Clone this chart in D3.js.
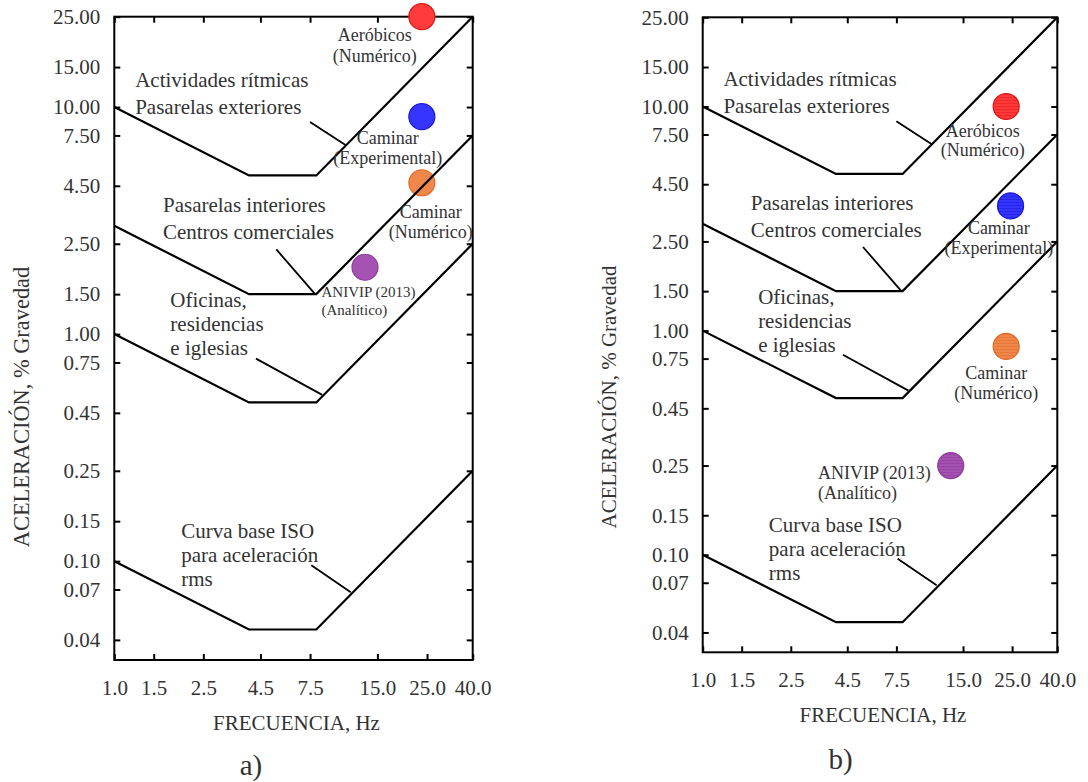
<!DOCTYPE html>
<html>
<head>
<meta charset="utf-8">
<script src="https://cdn.jsdelivr.net/npm/d3@7"></script>
<style>
  html, body { margin: 0; padding: 0; background: #fff; }
  svg { display: block; }
  text { font-family: "Liberation Serif", "Times New Roman", Times, serif; fill: #333; }
</style>
</head>
<body>
<svg id="chart" width="1088" height="782"></svg>
<script>
// ---------- data ----------
const xTicks = [1.0, 1.5, 2.5, 4.5, 7.5, 15, 25, 40];
const xTickLabels = ["1.0", "1.5", "2.5", "4.5", "7.5", "15.0", "25.0", "40.0"];
const yTicks = [25, 15, 10, 7.5, 4.5, 2.5, 1.5, 1.0, 0.75, 0.45, 0.25, 0.15, 0.10, 0.075, 0.045];
const yTickLabels = ["25.00", "15.00", "10.00", "7.50", "4.50", "2.50", "1.50", "1.00", "0.75", "0.45", "0.25", "0.15", "0.10", "0.07", "0.04"];

const curveFreq = [1, 4, 8, 40];
const curveOutdoor = [10, 5, 5, 25];
const curveIndoor = [3.0, 1.5, 1.5, 7.5];
const curveOffices = [1.0, 0.5, 0.5, 2.5];
const curveBase = [0.1, 0.05, 0.05, 0.25];

const curveLabels = [
  ["Actividades rítmicas", "Pasarelas exteriores"],
  ["Pasarelas interiores", "Centros comerciales"],
  ["Oficinas,", "residencias", "e iglesias"],
  ["Curva base ISO", "para aceleración", "rms"]
];
// label anchor (freq, accel) of first line, left/baseline
const curveLabelFreq = [1.24, 1.65, 1.78, 1.99];
const curveLabelAcc = [12.3, 3.44, 1.31, 0.126];
// leader lines: start (freq, acc) -> end (freq, acc)
const leaderFreq0 = [7.5, 5.3, 4.3, 7.6];
const leaderAcc0 = [8.6, 2.36, 0.78, 0.096];
const leaderFreq1 = [10.8, 7.9, 8.5, 11.4];
const leaderAcc1 = [6.8, 1.5, 0.54, 0.073];

const pointNames = [
  ["Aeróbicos", "(Numérico)"],
  ["Caminar", "(Experimental)"],
  ["Caminar", "(Numérico)"],
  ["ANIVIP (2013)", "(Analítico)"]
];
const pointFreqA = [23.7, 23.7, 23.7, 13.2];
const pointAccA = [25, 9.07, 4.64, 1.97];
const pointFreqB = [23.5, 24.6, 23.5, 13.2];
const pointAccB = [10, 3.6, 0.85, 0.25];

// ---------- styles ----------
const pointFill = ["#ff3b3b", "#3535ff", "#f0874a", "#a553b3"];
const pointStroke = ["#e01515", "#1717dd", "#e06a28", "#8d3b9c"];
const pointStripe = ["#e81818", "#1a1ad8", "#e36c2c", "#8e3a9c"];

const svg = d3.select("#chart");
svg.append("rect").attr("width", 1088).attr("height", 782).attr("fill", "#fff");

const defs = svg.append("defs");
pointFill.forEach((c, i) => {
  const p = defs.append("pattern").attr("id", "hatch" + i)
    .attr("patternUnits", "userSpaceOnUse").attr("width", 6).attr("height", 3);
  p.append("rect").attr("width", 6).attr("height", 3).attr("fill", c);
  p.append("rect").attr("y", 1.2).attr("width", 6).attr("height", 0.9).attr("fill", pointStripe[i]).attr("opacity", 0.75);
});

function drawPanel(cfg) {
  const x = d3.scaleLog().domain([1, 40]).range([cfg.left, cfg.right]);
  const y = d3.scaleLog().domain([0.0367, 25]).range([cfg.bottom, cfg.top]);
  const g = svg.append("g");

  // axes with inward ticks
  const bottom = g.append("g").attr("transform", `translate(0,${cfg.bottom})`)
    .call(d3.axisBottom(x).tickValues(xTicks).tickFormat((d, i) => xTickLabels[i]).tickSize(-6).tickPadding(20));
  const left = g.append("g").attr("transform", `translate(${cfg.left},0)`)
    .call(d3.axisLeft(y).tickValues(yTicks).tickFormat((d, i) => yTickLabels[i]).tickSize(-6).tickPadding(14));
  const top = g.append("g").attr("transform", `translate(0,${cfg.top})`)
    .call(d3.axisTop(x).tickValues(xTicks).tickFormat("").tickSize(-6));
  const right = g.append("g").attr("transform", `translate(${cfg.right},0)`)
    .call(d3.axisRight(y).tickValues(yTicks).tickFormat("").tickSize(-6));
  [bottom, left, top, right].forEach(a => {
    a.select(".domain").remove();
    a.selectAll(".tick line").attr("stroke", "#000").attr("stroke-width", 2);
    a.selectAll(".tick text").attr("font-size", 21).attr("font-family", "Liberation Serif").attr("fill", "#333");
  });

  // frame
  g.append("rect").attr("x", cfg.left).attr("y", cfg.top)
    .attr("width", cfg.right - cfg.left).attr("height", cfg.bottom - cfg.top)
    .attr("fill", "none").attr("stroke", "#000").attr("stroke-width", 2);

  // points (drawn below curves)
  const line = d3.line().x(d => x(d[0])).y(d => y(d[1]));
  cfg.freq.forEach((f, i) => {
    g.append("circle").attr("cx", x(f)).attr("cy", y(cfg.acc[i])).attr("r", 13)
      .attr("fill", cfg.hatch ? `url(#hatch${i})` : pointFill[i])
      .attr("stroke", pointStroke[i]).attr("stroke-width", 1.2);
  });

  // curves
  [curveOutdoor, curveIndoor, curveOffices, curveBase].forEach(c => {
    g.append("path").datum(curveFreq.map((f, i) => [f, c[i]]))
      .attr("d", line).attr("fill", "none").attr("stroke", "#000").attr("stroke-width", 2.2)
      .attr("stroke-linejoin", "miter");
  });

  // leader lines
  leaderFreq0.forEach((f, i) => {
    g.append("line")
      .attr("x1", x(f)).attr("y1", y(leaderAcc0[i]))
      .attr("x2", x(leaderFreq1[i])).attr("y2", y(leaderAcc1[i]))
      .attr("stroke", "#000").attr("stroke-width", 1.8);
  });

  // curve labels
  curveLabels.forEach((lines, i) => {
    const t = g.append("text").attr("x", x(curveLabelFreq[i])).attr("y", y(curveLabelAcc[i]))
      .attr("font-size", 21);
    const sp = i < 2 ? 27 : 24;
    lines.forEach((s, k) => t.append("tspan").attr("x", x(curveLabelFreq[i])).attr("dy", k === 0 ? 0 : sp).text(s));
  });

  // point labels
  pointNames.forEach((lines, i) => {
    const o = cfg.labelOff[i];
    const cx = x(cfg.freq[i]) + o.dx, cy = y(cfg.acc[i]) + o.dy;
    const t = g.append("text").attr("x", cx).attr("y", cy).attr("font-size", o.fs)
      .attr("text-anchor", o.anchor);
    lines.forEach((s, k) => t.append("tspan").attr("x", cx).attr("dy", k === 0 ? 0 : o.sp).text(s));
  });

  // axis titles
  g.append("text").attr("x", (cfg.left + cfg.right) / 2 + 3).attr("y", cfg.bottom + 70)
    .attr("text-anchor", "middle").attr("font-size", 21).text("FRECUENCIA, Hz");
  g.append("text").attr("transform", `translate(${cfg.ytX},${cfg.ytY}) rotate(-90)`)
    .attr("text-anchor", "middle").attr("font-size", cfg.ytSize).text("ACELERACIÓN, % Gravedad");

  // panel caption
  g.append("text").attr("x", cfg.capX).attr("y", cfg.capY).attr("text-anchor", "middle")
    .attr("font-size", 29).attr("fill", "#111").text(cfg.caption);
}

drawPanel({
  left: 114.3, right: 472.7, top: 16.7, bottom: 660,
  freq: pointFreqA, acc: pointAccA, hatch: false,
  labelOff: [
    { dx: -47, dy: 24, sp: 21, fs: 18, anchor: "middle" },
    { dx: -34, dy: 27.3, sp: 20, fs: 18, anchor: "middle" },
    { dx: 9, dy: 35.6, sp: 20, fs: 18, anchor: "middle" },
    { dx: -43.5, dy: 29.4, sp: 18.3, fs: 15, anchor: "start" }
  ],
  ytX: 29, ytY: 407, ytSize: 22.4,
  capX: 251, capY: 775, caption: "a)"
});

drawPanel({
  left: 702.7, right: 1057.3, top: 17.3, bottom: 652.3,
  freq: pointFreqB, acc: pointAccB, hatch: true,
  labelOff: [
    { dx: -23.5, dy: 30.3, sp: 19.7, fs: 18, anchor: "middle" },
    { dx: -11.7, dy: 27.6, sp: 20, fs: 18, anchor: "middle" },
    { dx: -10, dy: 32.3, sp: 20, fs: 18, anchor: "middle" },
    { dx: -132.7, dy: 13.3, sp: 20, fs: 18, anchor: "start" }
  ],
  ytX: 616, ytY: 397, ytSize: 21,
  capX: 840.5, capY: 769, caption: "b)"
});
</script>
</body>
</html>
